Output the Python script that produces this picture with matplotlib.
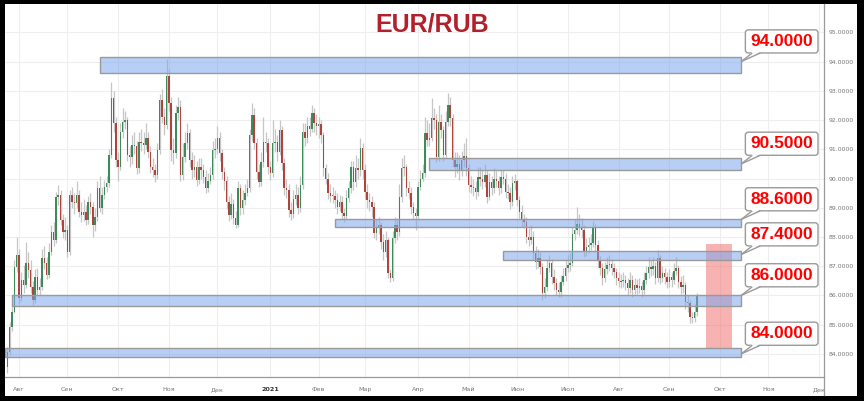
import numpy as np
import pandas as pd
import matplotlib
matplotlib.use('Agg')
import matplotlib.pyplot as plt
from matplotlib.patches import Rectangle, FancyBboxPatch, Polygon
from matplotlib.lines import Line2D
from matplotlib.transforms import Bbox

# EUR/RUB daily candles, Jul 27 2020 .. Sep 2021
data_start = '2020-07-27'
first_open = 83.55
closes = [
    84.05, 84.93, 85.45, 86.99, 87.38, 85.90, 86.53, 86.36, 87.10, 86.87,
    86.30, 85.85, 86.64, 86.19, 86.30, 87.27, 87.10, 86.70, 87.50, 88.18,
    87.90, 89.38, 89.44, 88.58, 88.18, 88.24, 87.50, 89.44, 89.20, 89.15,
    89.44, 88.87, 88.75, 88.87, 88.58, 89.20, 89.04, 88.41, 88.70, 89.66,
    89.00, 89.44, 89.72, 89.83, 90.80, 92.74, 91.89, 90.63, 90.40, 91.60,
    91.94, 92.00, 90.80, 90.75, 91.15, 91.11, 90.35, 91.26, 91.20, 91.15,
    91.37, 90.92, 90.40, 90.29, 90.12, 90.97, 92.68, 92.11, 91.83, 93.50,
    92.57, 90.97, 90.86, 92.23, 92.46, 90.12, 90.75, 91.20, 91.54, 90.63,
    90.29, 90.40, 89.95, 90.40, 90.30, 90.06, 89.66, 89.93, 90.12, 90.97,
    91.00, 91.37, 90.86, 90.23, 89.93, 89.20, 88.75, 89.13, 88.64, 88.41,
    89.66, 88.98, 89.26, 89.52, 89.66, 91.49, 92.17, 91.20, 90.23, 89.89,
    90.58, 91.26, 91.20, 90.40, 90.18, 91.20, 91.26, 90.92, 91.66, 90.52,
    89.66, 89.60, 88.92, 88.79, 89.30, 89.45, 88.98, 89.78, 91.60, 91.37,
    91.80, 91.70, 92.23, 91.90, 91.80, 91.85, 91.49, 90.35, 90.00, 89.49,
    89.40, 89.40, 89.26, 89.04, 89.20, 88.81, 88.72, 89.32, 89.66, 90.40,
    89.89, 90.35, 90.30, 91.03, 90.29, 89.55, 89.26, 89.20, 89.04, 88.12,
    88.35, 88.40, 87.84, 87.50, 87.90, 86.76, 86.59, 87.95, 88.41, 88.18,
    89.38, 90.35, 90.40, 89.66, 89.50, 89.04, 88.81, 88.72, 89.72, 90.00,
    90.18, 91.54, 91.32, 91.40, 92.06, 92.00, 90.75, 91.94, 91.66, 90.80,
    91.94, 92.51, 92.06, 90.63, 90.40, 90.50, 90.29, 90.63, 90.77, 90.35,
    89.78, 89.70, 89.66, 89.55, 90.06, 90.00, 89.89, 90.12, 89.38, 89.89,
    89.66, 90.00, 89.90, 89.66, 90.06, 90.00, 89.55, 89.50, 89.20, 89.83,
    89.90, 89.26, 88.87, 88.58, 88.52, 88.01, 87.90, 88.00, 87.44, 87.15,
    87.27, 86.99, 86.07, 86.30, 86.93, 87.12, 86.64, 86.42, 86.19, 86.13,
    86.47, 86.67, 86.93, 87.05, 87.10, 88.10, 88.24, 88.44, 88.30, 88.24,
    87.50, 87.67, 87.73, 87.80, 88.33, 87.73, 87.21, 86.93, 86.59, 86.89,
    87.04, 87.08, 86.93, 86.81, 86.59, 86.51, 86.50, 86.53, 86.42, 86.24,
    86.53, 86.19, 86.36, 86.24, 86.33, 86.19, 86.53, 86.76, 86.99, 86.89,
    87.00, 86.59, 87.27, 86.59, 86.76, 86.64, 86.47, 86.64, 86.53, 86.85,
    86.93, 86.47, 86.30, 86.36, 85.79, 85.73, 85.27, 85.22, 85.42, 86.02,
]
highs = [
    84.25, 85.10, 85.70, 87.20, 88.00, 87.60, 86.80, 87.05, 87.84, 87.50,
    87.20, 86.50, 86.90, 86.95, 86.60, 87.60, 87.70, 87.30, 87.80, 88.40,
    88.50, 89.55, 89.78, 89.60, 88.80, 88.70, 88.40, 89.60, 89.70, 89.50,
    89.90, 89.60, 89.20, 89.30, 89.10, 89.40, 89.50, 89.20, 89.00, 89.90,
    90.10, 89.70, 89.95, 90.10, 91.00, 93.31, 93.00, 92.10, 90.90, 91.90,
    92.40, 92.30, 92.10, 91.10, 91.50, 91.60, 91.30, 91.60, 91.70, 91.60,
    91.90, 91.60, 91.10, 90.70, 90.50, 91.20, 92.90, 93.05, 92.40, 94.10,
    93.75, 92.80, 91.40, 92.50, 92.80, 92.70, 91.20, 91.60, 91.90, 91.70,
    90.90, 90.80, 90.60, 90.70, 90.70, 90.50, 90.30, 90.20, 90.40, 91.30,
    91.40, 91.80, 91.60, 91.00, 90.40, 90.10, 89.40, 89.50, 89.30, 88.90,
    89.90, 89.80, 89.60, 89.80, 90.00, 91.70, 92.57, 92.40, 91.40, 90.50,
    90.90, 92.10, 91.60, 91.40, 90.60, 92.00, 91.70, 91.50, 92.00, 91.80,
    90.70, 90.00, 89.80, 89.20, 89.60, 89.80, 89.70, 90.10, 91.90, 91.90,
    92.10, 92.10, 92.50, 92.40, 92.20, 92.10, 92.00, 91.60, 90.50, 90.20,
    89.80, 89.70, 89.60, 89.50, 89.45, 89.40, 89.00, 89.60, 89.90, 90.60,
    90.60, 90.80, 90.70, 91.40, 91.20, 90.50, 89.80, 89.50, 89.40, 89.20,
    88.60, 88.70, 88.50, 88.10, 88.20, 88.00, 86.90, 88.20, 88.70, 88.60,
    89.80, 90.70, 90.80, 90.50, 89.90, 89.70, 89.20, 89.00, 89.90, 90.30,
    90.50, 92.10, 92.00, 91.90, 92.74, 92.40, 92.20, 92.50, 92.20, 91.80,
    92.30, 92.91, 92.80, 92.20, 90.90, 90.90, 90.80, 90.95, 91.20, 91.40,
    90.50, 90.10, 90.00, 89.90, 90.40, 90.40, 90.30, 90.50, 90.30, 90.20,
    90.10, 90.35, 90.25, 90.10, 90.30, 90.30, 90.20, 89.80, 89.70, 90.10,
    90.15, 90.00, 89.40, 89.10, 88.80, 88.70, 88.30, 88.40, 88.20, 87.70,
    87.60, 87.50, 87.10, 86.60, 87.20, 87.40, 87.25, 86.90, 86.60, 86.45,
    86.70, 86.95, 87.20, 87.40, 87.45, 88.35, 88.60, 89.04, 88.80, 88.65,
    88.40, 87.95, 88.00, 88.10, 88.55, 88.45, 87.90, 87.35, 87.10, 87.15,
    87.30, 87.40, 87.25, 87.10, 86.95, 86.80, 86.75, 86.80, 86.70, 86.60,
    86.80, 86.70, 86.60, 86.55, 86.60, 86.50, 86.80, 87.00, 87.30, 87.20,
    87.30, 87.15, 87.56, 87.40, 87.00, 86.95, 86.80, 86.90, 86.80, 87.10,
    87.30, 87.05, 86.65, 86.70, 86.45, 86.00, 85.85, 85.45, 85.70, 86.10,
]
lows = [
    83.35, 83.95, 84.80, 85.40, 86.80, 85.70, 85.80, 86.10, 86.25, 86.60,
    86.10, 85.68, 85.75, 86.00, 86.00, 86.20, 86.90, 86.55, 86.60, 87.40,
    87.70, 87.80, 89.10, 88.40, 87.95, 87.90, 87.30, 87.40, 89.00, 88.80,
    89.00, 88.70, 88.50, 88.55, 88.40, 88.45, 88.80, 88.00, 88.20, 88.55,
    88.85, 88.80, 89.30, 89.55, 89.70, 90.70, 91.60, 90.40, 89.90, 90.30,
    91.40, 91.70, 90.60, 90.40, 90.50, 90.85, 90.15, 90.20, 90.95, 90.85,
    91.00, 90.70, 90.20, 90.05, 89.89, 90.00, 90.85, 91.90, 91.50, 91.70,
    92.30, 90.60, 90.50, 90.70, 92.00, 89.90, 89.95, 90.55, 91.00, 90.40,
    90.00, 90.05, 89.75, 89.80, 90.00, 89.85, 89.50, 89.55, 89.80, 90.00,
    90.70, 90.85, 90.60, 90.00, 89.60, 88.95, 88.55, 88.60, 88.45, 88.30,
    88.35, 88.75, 88.80, 89.10, 89.40, 89.55, 91.30, 91.00, 90.00, 89.70,
    89.75, 90.40, 90.90, 90.15, 89.95, 90.05, 90.90, 90.60, 90.80, 90.30,
    89.45, 89.35, 88.70, 88.58, 88.65, 89.10, 88.80, 88.85, 89.65, 91.10,
    91.20, 91.45, 91.60, 91.60, 91.50, 91.40, 91.20, 90.10, 89.80, 89.30,
    89.20, 89.15, 89.00, 88.80, 88.90, 88.60, 88.50, 88.60, 89.20, 89.50,
    89.60, 89.70, 90.00, 90.10, 90.00, 89.30, 89.00, 88.90, 88.70, 87.95,
    87.90, 88.10, 87.60, 87.20, 87.30, 86.60, 86.47, 86.50, 87.80, 87.90,
    88.05, 89.20, 90.10, 89.40, 89.30, 88.80, 88.60, 88.24, 88.60, 89.60,
    89.90, 90.05, 91.10, 91.10, 91.30, 91.70, 90.55, 90.60, 91.40, 90.60,
    90.70, 91.80, 91.80, 90.40, 90.05, 90.20, 89.95, 90.10, 90.40, 90.10,
    89.55, 89.50, 89.40, 89.30, 89.40, 89.75, 89.65, 89.70, 89.15, 89.25,
    89.45, 89.50, 89.70, 89.45, 89.50, 89.80, 89.35, 89.30, 88.95, 89.05,
    89.60, 89.05, 88.65, 88.35, 88.30, 87.80, 87.70, 87.75, 87.20, 86.90,
    86.95, 86.75, 85.85, 85.90, 86.15, 86.80, 86.40, 86.20, 86.00, 85.95,
    85.95, 86.35, 86.50, 86.80, 86.85, 87.00, 87.90, 88.10, 88.05, 87.95,
    87.30, 87.35, 87.45, 87.55, 87.65, 87.50, 86.95, 86.70, 86.35, 86.45,
    86.75, 86.85, 86.70, 86.60, 86.35, 86.30, 86.25, 86.30, 86.20, 86.00,
    86.10, 85.95, 86.05, 86.05, 86.10, 85.95, 86.05, 86.40, 86.60, 86.65,
    86.70, 86.40, 86.45, 86.40, 86.45, 86.40, 86.25, 86.30, 86.30, 86.40,
    86.70, 86.25, 86.05, 86.10, 85.55, 85.45, 85.05, 85.05, 85.10, 85.30,
]

# support / resistance zones
levels = [94.0, 90.5, 88.6, 87.4, 86.0, 84.0]
zone_lo = [93.61, 90.29, 88.34, 87.21, 85.64, 83.90]
zone_hi = [94.15, 90.70, 88.62, 87.52, 86.02, 84.20]
zone_from = ['2020-09-21', '2021-04-08', '2021-02-10', '2021-05-24', '2020-07-29', '2020-07-24']
zone_to = '2021-10-14'

# pink "expected move" box
focus_from, focus_to = '2021-09-23', '2021-10-08'
focus_lo, focus_hi = 84.2, 87.76

month_labels = ['Авг', 'Сен', 'Окт', 'Ноя', 'Дек', '2021', 'Фев', 'Мар', 'Апр',
                'Май', 'Июн', 'Июл', 'Авг', 'Сен', 'Окт', 'Ноя', 'Дек']

# bar index axis (business days), 0 = Aug 3 2020
cal = pd.bdate_range('2020-07-24', '2021-12-31')
pos = pd.Series(np.arange(len(cal)) - 6, index=cal)
xp = lambda d: pos[pd.Timestamp(d)]

closes = np.array(closes)
highs = np.array(highs)
lows = np.array(lows)
opens = np.r_[first_open, closes[:-1]]
x = xp(data_start) + np.arange(len(closes))

month_first = pos.groupby([pos.index.year, pos.index.month]).first().values[1:]

GREEN, RED = '#3f8a5c', '#b0433b'
EDGE = '#9a9a9a'

fig = plt.figure(figsize=(8.64, 4.01), dpi=100, facecolor='black')
fig.add_artist(Rectangle((5 / 864, 5 / 401), 852 / 864, 392 / 401, transform=fig.transFigure,
                         facecolor='white', edgecolor='none', zorder=-5))
ax = fig.add_axes([5 / 864, 24 / 401, 819 / 864, 373 / 401])
ax.set_facecolor('white')

# candles
ax.vlines(x, lows, highs, color='#c6c6c6', lw=0.9, zorder=2)
h = closes - opens
h = np.where(np.abs(h) < 0.04, np.where(h >= 0, 0.04, -0.04), h)
ax.bar(x, h, bottom=opens, width=0.62, color=np.where(closes >= opens, GREEN, RED), lw=0, zorder=3)

# pink box
ax.add_patch(Rectangle((xp(focus_from), focus_lo), xp(focus_to) - xp(focus_from), focus_hi - focus_lo,
                       facecolor=(0.95, 0.45, 0.45, 0.55), edgecolor='none', zorder=3.5))

# zones + callouts
x_end = xp(zone_to)
bx0, bw = 315.0, 31.5
for lvl, lo, hi, start in zip(levels, zone_lo, zone_hi, zone_from):
    x0 = max(xp(start), -6.05)
    ax.add_patch(Rectangle((x0, lo), x_end - x0, hi - lo, facecolor=(0.49, 0.65, 0.93, 0.55),
                           edgecolor=EDGE, lw=1, zorder=4))
    cy = lvl + 0.69
    bot = cy - 0.395
    ax.add_patch(FancyBboxPatch((bx0, bot), bw, 0.79, boxstyle='round,pad=0,rounding_size=1.3',
                                mutation_aspect=0.077, facecolor='white', edgecolor=EDGE, lw=1, zorder=5))
    tip = (x_end + 0.2, lvl)
    ax.add_patch(Polygon([tip, (318.0, bot + 0.04), (321.5, bot + 0.04)], closed=True,
                         facecolor='white', edgecolor='none', zorder=6))
    ax.plot([tip[0], 318.0], [tip[1], bot], color=EDGE, lw=1, zorder=6, solid_capstyle='butt')
    ax.plot([tip[0], 321.5], [tip[1], bot], color=EDGE, lw=1, zorder=6, solid_capstyle='butt')
    ax.text(bx0 + bw / 2, cy, f'{lvl:.4f}', ha='center', va='center', fontsize=12.5,
            fontweight='bold', color='#ff0000', family='Liberation Sans', zorder=7)

fig.text(0.5, 1 - 25 / 401, 'EUR/RUB', ha='center', va='center', fontsize=18,
         fontweight='bold', color='#b2202c', family='Liberation Sans')

ax.set_xlim(-6.07, 349.1)
ax.set_ylim(83.21, 95.97)
ax.set_yticks(np.arange(84, 96))
ax.set_yticklabels([f'{v:.4f}' for v in np.arange(84, 96)])
ax.yaxis.tick_right()
ax.set_xticks(month_first)
ax.set_xticklabels(month_labels)
ax.tick_params(axis='y', length=0, pad=3.5, labelsize=4.4, labelcolor='#777777')
ax.tick_params(axis='x', length=0, pad=7, labelsize=4.6, labelcolor='#777777')
for lbl in ax.get_xticklabels():
    if lbl.get_text() == '2021':
        lbl.set_fontweight('bold')
        lbl.set_color('#333333')
last = ax.get_xticklabels()[-1]
last.set_clip_on(True)
last.set_clip_box(Bbox.from_extents(0, 0, 824, 401))

ax.grid(True, color='#eeeeee', lw=0.8)
ax.set_axisbelow(True)
for s in ['top', 'left']:
    ax.spines[s].set_visible(False)
for s in ['right', 'bottom']:
    ax.spines[s].set_color(EDGE)
    ax.spines[s].set_linewidth(0.9)
fig.add_artist(Line2D([824 / 864, 824 / 864], [6 / 401, 24 / 401], color=EDGE, lw=0.9,
                      transform=fig.transFigure))

fig.savefig('out.png', dpi=100, facecolor=fig.get_facecolor())
